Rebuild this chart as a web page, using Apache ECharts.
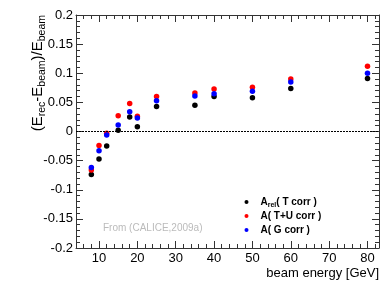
<!DOCTYPE html>
<html>
<head>
<meta charset="utf-8">
<script src="https://cdn.jsdelivr.net/npm/echarts@6/dist/echarts.min.js"></script>
<style>html,body{margin:0;padding:0;background:#fff;}#c{width:388px;height:291px;}</style>
</head>
<body>
<div id="c"></div>
<script>
const energies = [8, 10, 12, 15, 18, 20, 25, 35, 40, 50, 60, 80];
const tCorr  = [-0.074, -0.047, -0.025, 0.002, 0.025, 0.008, 0.043, 0.045, 0.060, 0.058, 0.074, 0.091];
const tuCorr = [-0.066, -0.024, -0.003, 0.027, 0.048, 0.026, 0.060, 0.066, 0.073, 0.076, 0.090, 0.112];
const gCorr  = [-0.062, -0.033, -0.006, 0.011, 0.034, 0.023, 0.053, 0.061, 0.065, 0.069, 0.085, 0.100];
const seriesNames = ['A_rel( T corr )', 'A( T+U corr )', 'A( G corr )'];
const xTickLabels = [10, 20, 30, 40, 50, 60, 70, 80];

const FONT = 'Liberation Sans, Arial, Helvetica, sans-serif';
const pair = (ys) => energies.map((e, i) => [e, ys[i]]);

const chart = echarts.init(document.getElementById('c'), null, {renderer: 'canvas'});
const axisLine = {show: true, onZero: false, lineStyle: {color: '#333', width: 1}};
const noSplit = {show: false};

chart.setOption({
  animation: false,
  textStyle: {fontFamily: FONT},
  grid: [
    {left: 76, top: 15, width: 303, height: 233, containLabel: false, outerBoundsMode: 'none'},
    {left: 76, top: 15, width: 303, height: 233, containLabel: false, outerBoundsMode: 'none'}
  ],
  xAxis: [
    {
      gridIndex: 0, type: 'value', position: 'bottom', min: 4, max: 83,
      axisLine: axisLine,
      axisTick: {show: true, inside: true, length: 7, customValues: xTickLabels, lineStyle: {color: '#333'}},
      axisLabel: {show: true, customValues: xTickLabels, fontSize: 13, color: '#000', margin: 4, fontFamily: FONT},
      splitLine: noSplit,
      name: 'beam energy [GeV]', nameLocation: 'end', nameGap: 0, nameMoveOverlap: false,
      nameTextStyle: {fontSize: 13, color: '#000', align: 'right', verticalAlign: 'top', padding: [19, 0, 0, 0], fontFamily: FONT}
    },
    {
      gridIndex: 0, type: 'value', position: 'top', min: 4, max: 83,
      axisLine: axisLine,
      axisTick: {show: true, inside: true, length: 7, customValues: xTickLabels, lineStyle: {color: '#333'}},
      axisLabel: {show: false},
      splitLine: noSplit
    },
    {
      gridIndex: 1, type: 'value', position: 'bottom', min: 4, max: 83, interval: 2,
      axisLine: {show: false, onZero: false},
      axisTick: {show: true, inside: true, length: 4, lineStyle: {color: '#333'}},
      axisLabel: {show: false},
      splitLine: noSplit
    },
    {
      gridIndex: 1, type: 'value', position: 'top', min: 4, max: 83, interval: 2,
      axisLine: {show: false, onZero: false},
      axisTick: {show: true, inside: true, length: 4, lineStyle: {color: '#333'}},
      axisLabel: {show: false},
      splitLine: noSplit
    }
  ],
  yAxis: [
    {
      gridIndex: 0, type: 'value', position: 'left', min: -0.2, max: 0.2, interval: 0.05,
      axisLine: axisLine,
      axisTick: {show: true, inside: true, length: 7, lineStyle: {color: '#333'}},
      minorTick: {show: true, splitNumber: 5, length: 4, lineStyle: {color: '#333'}},
      axisLabel: {show: true, fontSize: 13, color: '#000', margin: 3, fontFamily: FONT},
      splitLine: noSplit, minorSplitLine: {show: false}
    },
    {
      gridIndex: 0, type: 'value', position: 'right', min: -0.2, max: 0.2, interval: 0.05,
      axisLine: axisLine,
      axisTick: {show: true, inside: true, length: 7, lineStyle: {color: '#333'}},
      minorTick: {show: true, splitNumber: 5, length: 4, lineStyle: {color: '#333'}},
      axisLabel: {show: false},
      splitLine: noSplit, minorSplitLine: {show: false}
    },
    {
      gridIndex: 1, type: 'value', show: false, min: -0.2, max: 0.2
    }
  ],
  legend: {
    orient: 'vertical', left: 244.5, top: 197, padding: 0, itemGap: 2,
    itemWidth: 18, itemHeight: 4, icon: 'circle',
    data: seriesNames,
    formatter: function (name) {
      if (name === seriesNames[0]) return '{a|A}{s|rel}{a|( T corr )}';
      return '{a|' + name + '}{s| }';
    },
    textStyle: {
      rich: {
        a: {fontSize: 10, fontWeight: 'bold', color: '#000', lineHeight: 14, verticalAlign: 'middle', fontFamily: FONT},
        s: {fontSize: 7, fontWeight: 'bold', color: '#000', lineHeight: 7, verticalAlign: 'bottom', fontFamily: FONT}
      }
    }
  },
  graphic: [
    {
      type: 'text', x: 39, y: 15, rotation: Math.PI / 2,
      style: {
        text: '{m|(E}{s|rec}{m|-E}{s|beam}{m|)/E}{s|beam}',
        align: 'right', verticalAlign: 'middle',
        rich: {
          m: {fontSize: 15, lineHeight: 18, verticalAlign: 'top', fill: '#000', fontFamily: FONT},
          s: {fontSize: 10.5, lineHeight: 11, verticalAlign: 'bottom', fill: '#000', fontFamily: FONT}
        }
      }
    },
    {
      type: 'text', x: 103, y: 228,
      style: {text: 'From (CALICE,2009a)', fontSize: 10, fill: '#bbbbbb', align: 'left', verticalAlign: 'middle', fontFamily: FONT}
    }
  ],
  series: [
    {
      name: seriesNames[0], type: 'scatter', xAxisIndex: 0, yAxisIndex: 0,
      symbol: 'circle', symbolSize: 5.5, itemStyle: {color: '#000000', opacity: 1},
      data: pair(tCorr),
      markLine: {
        silent: true, symbol: 'none', label: {show: false},
        lineStyle: {color: '#000', width: 1, type: [2, 1]},
        data: [{yAxis: 0}]
      }
    },
    {
      name: seriesNames[1], type: 'scatter', xAxisIndex: 0, yAxisIndex: 0,
      symbol: 'circle', symbolSize: 5.5, itemStyle: {color: '#ff0000', opacity: 1},
      data: pair(tuCorr)
    },
    {
      name: seriesNames[2], type: 'scatter', xAxisIndex: 0, yAxisIndex: 0,
      symbol: 'circle', symbolSize: 5.5, itemStyle: {color: '#0000ff', opacity: 1},
      data: pair(gCorr)
    }
  ]
});
</script>
</body>
</html>
